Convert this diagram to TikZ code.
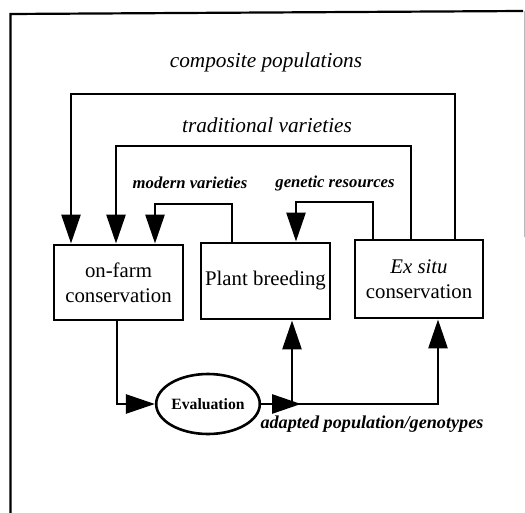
\documentclass[tikz,border=0pt]{standalone}
\usepackage{fontspec}
\setmainfont{Liberation Serif}
\usetikzlibrary{arrows.meta,shapes.geometric}
\begin{document}
\begin{tikzpicture}[x=1pt,y=-1pt,
  boxnode/.style={draw,line width=2.9pt,inner sep=0pt,align=center,
    font=\fontsize{20.8}{25}\selectfont},
  conn/.style={line width=2.7pt},
  tipped/.style={-{Triangle[length=29pt,width=19pt]}},
  biglabel/.style={font=\fontsize{21.3}{25}\selectfont\itshape},
  smalllabel/.style={font=\fontsize{16.7}{20}\selectfont\bfseries\itshape}]
\useasboundingbox (0,0) rectangle (525,513);
% frame
\draw[line width=2.2pt] (10.5,513) -- (10.5,14) -- (523,11);
\draw[gray!55,line width=1pt] (524,11) -- (524,237);
% boxes
\node[boxnode,minimum width=129pt,minimum height=75pt] (onfarm) at (118.5,282.5) {on-farm\\conservation};
\node[boxnode,minimum width=129pt,minimum height=76pt] (breed) at (265.5,281) {Plant breeding};
\node[boxnode,minimum width=128pt,minimum height=78pt] (exsitu) at (419,279) {\textit{Ex situ}\\conservation};
\node[draw,ellipse,line width=2.6pt,minimum width=102pt,minimum height=60pt,inner sep=0pt,
  font=\fontsize{15.7}{18}\selectfont\bfseries] (eval) at (208,404) {Evaluation};
% labels
\node[biglabel] (lcomp) at (266,62) {composite populations};
\node[biglabel] (ltrad) at (267,125) {traditional varieties};
\node[smalllabel] (lmod) at (190,183) {modern varieties};
\node[smalllabel] (lgen) at (335,183) {genetic resources};
\node[smalllabel,font=\fontsize{18.2}{21}\selectfont\bfseries\itshape] (ladapt) at (372,424) {adapted population/genotypes};
% top connectors
\draw[conn,tipped] (exsitu.north -| 455,0) -- (455,94) -- (71,94) -- (onfarm.north -| 71,0);
\draw[conn,tipped] (exsitu.north -| 411,0) -- (411,146) -- (116,146) -- (onfarm.north -| 116,0);
\draw[conn,tipped] (breed.north -| 232,0) -- (232,204) -- (155,204) -- (onfarm.north -| 155,0);
\draw[conn,tipped] (exsitu.north -| 373,0) -- (373,202) -- (296,202) -- (breed.north -| 296,0);
% bottom connectors
\coordinate (j) at (292,404);
\coordinate (jt) at (301,404);
\draw[conn,tipped] (onfarm.south -| 117,0) |- (eval);
\draw[conn,tipped] (eval.east) -- (jt);
\draw[conn,tipped] (j) -- (breed.south -| 292,0);
\draw[conn,tipped] (eval.east) -| (exsitu.south -| 438,0);
\end{tikzpicture}
\end{document}
